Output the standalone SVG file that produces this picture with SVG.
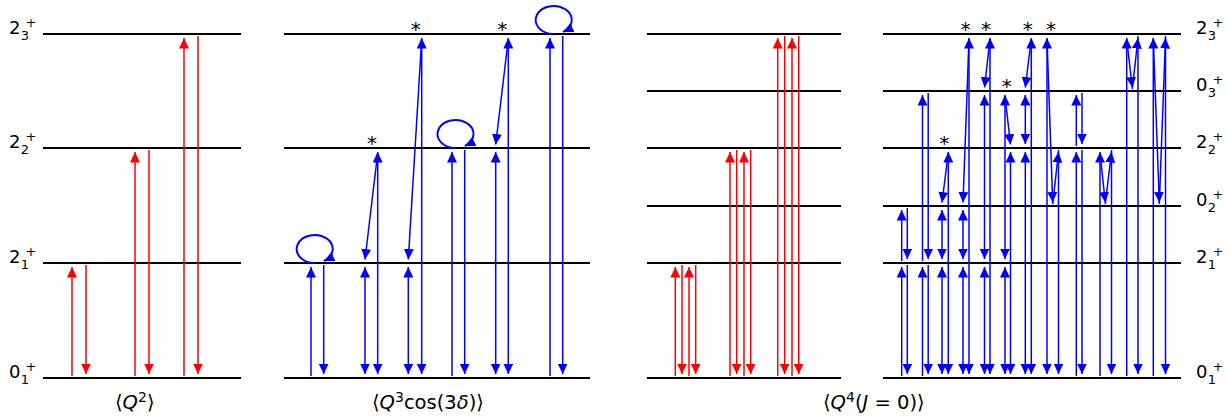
<svg xmlns="http://www.w3.org/2000/svg" width="1228" height="419" viewBox="0 0 1228 419">
<style>
.lvl{stroke:#000;stroke-width:2;fill:none}
.r{stroke:#ff0000;stroke-width:1.5;fill:none;marker-end:url(#arR)}
.b{stroke:#0000ff;stroke-width:1.5;fill:none;marker-end:url(#arB)}
.bd{stroke:#0000ff;stroke-width:1.5;fill:none;marker-start:url(#arB);marker-end:url(#arB)}
.loop{stroke:#0000ff;stroke-width:2;fill:none;marker-end:url(#arB)}
text{font-family:"DejaVu Sans",sans-serif;fill:#000}
.lb{font-size:18px}
.sm{font-size:13px}
.ast{font-size:20px;text-anchor:middle}
.ax{font-size:19.5px}
.axs{font-size:14px}
</style>
<defs>
<marker id="arR" viewBox="-10.5 -5 10.5 10" refX="0" refY="0" markerWidth="10.5" markerHeight="10" markerUnits="userSpaceOnUse" orient="auto-start-reverse"><path d="M0,0 L-10.5,-5 L-10.5,5 Z" fill="#ff0000"/></marker>
<marker id="arB" viewBox="-10.5 -5 10.5 10" refX="0" refY="0" markerWidth="10.5" markerHeight="10" markerUnits="userSpaceOnUse" orient="auto-start-reverse"><path d="M0,0 L-10.5,-5 L-10.5,5 Z" fill="#0000ff"/></marker>
</defs>

<!-- Panel 1 levels -->
<g id="p1-levels">
<g id="p1-0_1"><path class="lvl" d="M43,378H241"/></g>
<g id="p1-2_1"><path class="lvl" d="M43,263H241"/></g>
<g id="p1-2_2"><path class="lvl" d="M43,148H241"/></g>
<g id="p1-2_3"><path class="lvl" d="M43,34H241"/></g>
</g>
<!-- Panel 2 levels -->
<g id="p2-levels">
<g id="p2-0_1"><path class="lvl" d="M284,378H590"/></g>
<g id="p2-2_1"><path class="lvl" d="M284,263H590"/></g>
<g id="p2-2_2"><path class="lvl" d="M284,148H590"/></g>
<g id="p2-2_3"><path class="lvl" d="M284,34H590"/></g>
</g>
<!-- Panel 3 levels -->
<g id="p3-levels">
<g id="p3-0_1"><path class="lvl" d="M647,378H841"/></g>
<g id="p3-2_1"><path class="lvl" d="M647,263H841"/></g>
<g id="p3-0_2"><path class="lvl" d="M647,206H841"/></g>
<g id="p3-2_2"><path class="lvl" d="M647,148H841"/></g>
<g id="p3-0_3"><path class="lvl" d="M647,91H841"/></g>
<g id="p3-2_3"><path class="lvl" d="M647,34H841"/></g>
</g>
<!-- Panel 4 levels -->
<g id="p4-levels">
<g id="p4-0_1"><path class="lvl" d="M883,378H1181"/></g>
<g id="p4-2_1"><path class="lvl" d="M883,263H1181"/></g>
<g id="p4-0_2"><path class="lvl" d="M883,206H1181"/></g>
<g id="p4-2_2"><path class="lvl" d="M883,148H1181"/></g>
<g id="p4-0_3"><path class="lvl" d="M883,91H1181"/></g>
<g id="p4-2_3"><path class="lvl" d="M883,34H1181"/></g>
</g>

<!-- Left state labels -->
<g id="labels-left">
<text class="lb" x="9" y="34">2<tspan class="sm" x="20.8" y="39.5">3</tspan><tspan class="sm" x="25.5" y="27">+</tspan></text>
<text class="lb" x="9" y="148">2<tspan class="sm" x="20.8" y="153.5">2</tspan><tspan class="sm" x="25.5" y="141">+</tspan></text>
<text class="lb" x="9" y="263">2<tspan class="sm" x="20.8" y="268.5">1</tspan><tspan class="sm" x="25.5" y="256">+</tspan></text>
<text class="lb" x="9" y="378">0<tspan class="sm" x="20.8" y="383.5">1</tspan><tspan class="sm" x="25.5" y="371">+</tspan></text>
</g>
<!-- Right state labels -->
<g id="labels-right">
<text class="lb" x="1196" y="34">2<tspan class="sm" x="1207.8" y="39.5">3</tspan><tspan class="sm" x="1212.5" y="27">+</tspan></text>
<text class="lb" x="1196" y="91">0<tspan class="sm" x="1207.8" y="96.5">3</tspan><tspan class="sm" x="1212.5" y="84">+</tspan></text>
<text class="lb" x="1196" y="148">2<tspan class="sm" x="1207.8" y="153.5">2</tspan><tspan class="sm" x="1212.5" y="141">+</tspan></text>
<text class="lb" x="1196" y="206">0<tspan class="sm" x="1207.8" y="211.5">2</tspan><tspan class="sm" x="1212.5" y="199">+</tspan></text>
<text class="lb" x="1196" y="263">2<tspan class="sm" x="1207.8" y="268.5">1</tspan><tspan class="sm" x="1212.5" y="256">+</tspan></text>
<text class="lb" x="1196" y="378">0<tspan class="sm" x="1207.8" y="383.5">1</tspan><tspan class="sm" x="1212.5" y="371">+</tspan></text>
</g>

<!-- Bottom titles -->
<g id="titles">
<text class="ax" x="115" y="409">⟨<tspan font-style="italic">Q</tspan><tspan class="axs" dy="-7.5">2</tspan><tspan dy="7.5">⟩</tspan></text>
<text class="ax" x="372" y="409">⟨<tspan font-style="italic">Q</tspan><tspan class="axs" dy="-7.5">3</tspan><tspan dy="7.5">cos(3</tspan><tspan font-style="italic">δ</tspan>)⟩</text>
<text class="ax" x="823" y="409">⟨<tspan font-style="italic">Q</tspan><tspan class="axs" dy="-7.5">4</tspan><tspan dy="7.5">(</tspan><tspan font-style="italic">J</tspan> = 0)⟩</text>
</g>

<!-- Asterisks -->
<g id="asterisks">
<text class="ast" x="372" y="150">*</text>
<text class="ast" x="415.7" y="35.5">*</text>
<text class="ast" x="502.3" y="35.5">*</text>
<text class="ast" x="944.3" y="150">*</text>
<text class="ast" x="965.5" y="35.5">*</text>
<text class="ast" x="986" y="35.5">*</text>
<text class="ast" x="1006.7" y="93">*</text>
<text class="ast" x="1027.7" y="35.5">*</text>
<text class="ast" x="1051" y="35.5">*</text>
</g>

<g id="connectors">
<!-- Panel 1 -->
<path class="r" d="M72,376V267"/><path class="r" d="M86,265V374"/>
<path class="r" d="M135,376V152"/><path class="r" d="M149,150V374"/>
<path class="r" d="M184,376V38"/><path class="r" d="M198,36V374"/>

<!-- Panel 2 -->
<path class="b" d="M311,376V267"/><path class="b" d="M323.7,265V374"/>
<path class="loop" d="M314.7,263A18,14 0 1 1 324,261"/>
<path class="bd" d="M365,374V267"/><path class="bd" d="M377.7,374V152"/>
<path class="b" d="M377.7,153L365,259.5"/>
<path class="bd" d="M408.3,374V267"/><path class="bd" d="M421.7,374V38"/>
<path class="b" d="M421.7,39L408.3,259.5"/>
<path class="b" d="M452,376V152"/><path class="b" d="M464.7,150V374"/>
<path class="loop" d="M455.5,148A18,14 0 1 1 464.8,146"/>
<path class="bd" d="M495.7,374V152"/><path class="bd" d="M508.3,374V38"/>
<path class="b" d="M508.3,39L495.7,144.5"/>
<path class="b" d="M550,376V38"/><path class="b" d="M562.7,36V374"/>
<path class="loop" d="M553.7,34A18,14 0 1 1 563,32"/>

<!-- Panel 3 -->
<path class="r" d="M675.3,376V267"/><path class="r" d="M682,265V374"/>
<path class="r" d="M689,376V267"/><path class="r" d="M695.7,265V374"/>
<path class="r" d="M730,376V152"/><path class="r" d="M736.7,150V374"/>
<path class="r" d="M744,376V152"/><path class="r" d="M750.7,150V374"/>
<path class="r" d="M777.7,376V38"/><path class="r" d="M784.7,36V374"/>
<path class="r" d="M792,376V38"/><path class="r" d="M798.7,36V374"/>

<!-- Panel 4 -->
<path class="b" d="M901.7,376V267"/><path class="b" d="M901.7,261V210"/>
<path class="b" d="M907.3,208V259"/><path class="b" d="M907.3,265V374"/>

<path class="b" d="M922.5,376V267"/><path class="b" d="M922.5,261V95"/>
<path class="b" d="M928.2,93V259"/><path class="b" d="M928.2,265V374"/>

<path class="bd" d="M942,374V267"/><path class="bd" d="M942,259V210"/>
<path class="bd" d="M948.3,374V152"/><path class="b" d="M948.3,153L942,202.5"/>

<path class="bd" d="M963,374V267"/><path class="bd" d="M963,259V210"/>
<path class="bd" d="M969,374V38"/><path class="b" d="M969,39L963,202.5"/>

<path class="bd" d="M984.5,374V267"/><path class="bd" d="M984.5,259V95"/>
<path class="bd" d="M990,374V38"/><path class="b" d="M990,39L984.5,87.5"/>

<path class="bd" d="M1005,374V267"/><path class="bd" d="M1005,259V95"/>
<path class="bd" d="M1010.5,374V152"/><path class="b" d="M1005,96L1010.5,144.5"/>

<path class="bd" d="M1025.3,374V152"/><path class="bd" d="M1025.3,144V95"/>
<path class="bd" d="M1031.3,374V38"/><path class="b" d="M1031.3,39L1025.3,87.5"/>

<path class="bd" d="M1047,374V38"/><path class="b" d="M1047,39L1052.7,202.5"/>
<path class="b" d="M1052.7,204L1058.5,152"/><path class="b" d="M1058.5,150V374"/>

<path class="b" d="M1076.3,376V152"/><path class="b" d="M1076.3,146V95"/>
<path class="b" d="M1082,93V144"/><path class="b" d="M1082,150V374"/>

<path class="b" d="M1100,376V152"/><path class="b" d="M1100,153L1105.3,202.5"/>
<path class="b" d="M1105.3,204L1111.5,152"/><path class="b" d="M1111.5,150V374"/>

<path class="b" d="M1126.7,376V38"/><path class="b" d="M1126.7,39L1132.3,87.5"/>
<path class="b" d="M1132.3,89L1138,38"/><path class="b" d="M1138,36V374"/>

<path class="b" d="M1153.3,376V38"/><path class="b" d="M1153.3,39L1159.3,202.5"/>
<path class="b" d="M1159.3,204L1165.5,38"/><path class="b" d="M1165.5,36V374"/>
</g>
</svg>
